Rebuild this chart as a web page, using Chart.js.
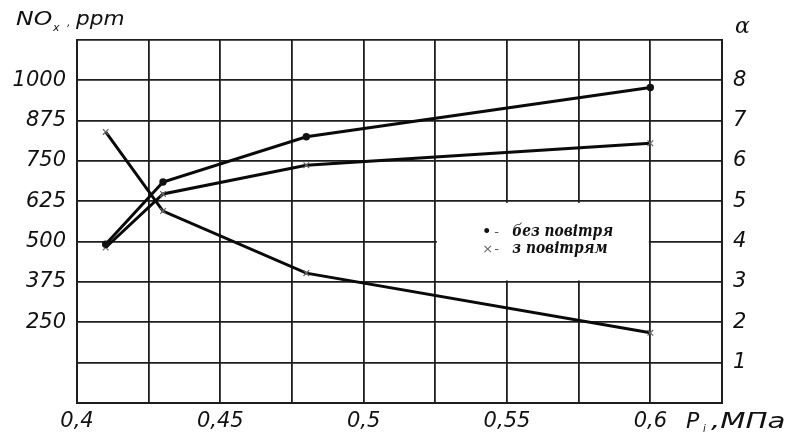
<!DOCTYPE html>
<html>
<head>
<meta charset="utf-8">
<script src="https://cdn.jsdelivr.net/npm/chart.js@4.4.1/dist/chart.umd.min.js"></script>
<style>
html,body{margin:0;padding:0;background:#fff;}
#c{display:block;}
</style>
</head>
<body>
<canvas id="c" width="792" height="436"></canvas>
<script>
// ---- data ----
const pressure = [0.41, 0.43, 0.48, 0.6];               // P_i, MPa
const noxWithoutAir = [492, 685, 825, 978];              // NOx, ppm (• без повітря)
const noxWithAir = [482, 648, 737, 805];                 // NOx, ppm (× з повітрям)
const alphaValues = [6.72, 4.76, 3.22, 1.74];            // α (right axis)
const xTickLabels = [0.4, 0.45, 0.5, 0.55, 0.6];
const leftTickLabels = [250, 375, 500, 625, 750, 875, 1000];
const rightTickLabels = [1, 2, 3, 4, 5, 6, 7, 8];
const legendItems = [{mark: '•', text: 'без повітря'}, {mark: '×', text: 'з повітрям'}];

const toPts = (xs, ys) => xs.map((x, i) => ({x: x, y: ys[i]}));
const fmt = v => String(v).replace('.', ',');
const near = (v, arr) => arr.find(a => Math.abs(a - v) < 1e-6);

const tickFont = {family: 'DejaVu Sans', style: 'italic', size: 21};
const gridColor = '#1e1e1e';

const cover = {
  id: 'cover',
  beforeDatasetsDraw(chart) {
    const x = chart.scales.x, y = chart.scales.y, ctx = chart.ctx;
    const x0 = x.getPixelForValue(0.525) + 1.5, x1 = x.getPixelForValue(0.6) - 1.5;
    const y0 = y.getPixelForValue(625) + 1.5, y1 = y.getPixelForValue(375) - 1.5;
    ctx.save();
    ctx.fillStyle = '#fff';
    ctx.fillRect(x0, y0, x1 - x0, y1 - y0);
    ctx.restore();
  }
};

function txt(ctx, s, x, y, font, sx) {
  ctx.save();
  ctx.font = font;
  ctx.translate(x, y);
  ctx.scale(sx || 1, 1);
  ctx.fillText(s, 0, 0);
  ctx.restore();
}

const labels = {
  id: 'labels',
  afterDraw(chart) {
    const ctx = chart.ctx;
    ctx.save();
    ctx.fillStyle = '#111';
    ctx.textBaseline = 'alphabetic';
    ctx.textAlign = 'left';
    // NOx, ppm
    txt(ctx, 'NO', 16, 25, 'italic 20px "DejaVu Sans"', 1.18);
    txt(ctx, 'x', 53, 31, 'italic 11px "DejaVu Sans"');
    txt(ctx, ',', 67, 26, 'italic 11px "DejaVu Sans"');
    txt(ctx, 'ppm', 76, 25, 'italic 20px "DejaVu Sans"', 1.08);
    // alpha
    txt(ctx, 'α', 735, 33, 'italic 22px "DejaVu Serif"');
    // P_i, MPa
    txt(ctx, 'P', 686, 428, 'italic 21px "DejaVu Sans"', 1.05);
    txt(ctx, 'i', 703, 432, 'italic 10px "DejaVu Sans"');
    txt(ctx, ',МПа', 711, 428, 'italic 22px "DejaVu Sans"', 1.33);
    // legend
    const xs = chart.scales.x, ys = chart.scales.y;
    const lx = xs.getPixelForValue(0.5414);
    const ly = ys.getPixelForValue(518);
    legendItems.forEach((it, i) => {
      const yy = ly + i * 17;
      ctx.fillStyle = i === 0 ? '#111' : '#666';
      txt(ctx, it.mark, lx, yy, (i === 0 ? 'bold 14px' : '13px') + ' "DejaVu Sans"');
      ctx.fillStyle = '#555';
      txt(ctx, '-', lx + 12, yy, '13px "DejaVu Sans"');
      ctx.fillStyle = '#111';
      txt(ctx, it.text, lx + 30, yy, 'italic bold 16px "DejaVu Serif"', 0.86);
    });
    ctx.restore();
  }
};

new Chart(document.getElementById('c'), {
  type: 'scatter',
  data: {
    datasets: [
      {
        label: 'без повітря',
        data: toPts(pressure, noxWithoutAir),
        yAxisID: 'y',
        showLine: true,
        borderColor: '#0a0a0a',
        borderWidth: 3,
        pointStyle: 'circle',
        pointRadius: 2.2,
        pointBackgroundColor: '#111',
        pointBorderColor: '#111'
      },
      {
        label: 'з повітрям',
        data: toPts(pressure, noxWithAir),
        yAxisID: 'y',
        showLine: true,
        borderColor: '#0a0a0a',
        borderWidth: 3,
        pointStyle: 'crossRot',
        pointRadius: 4,
        pointBorderWidth: 1.2,
        pointBorderColor: '#666'
      },
      {
        label: 'α',
        data: toPts(pressure, alphaValues),
        yAxisID: 'y1',
        showLine: true,
        borderColor: '#0a0a0a',
        borderWidth: 3,
        pointStyle: 'crossRot',
        pointRadius: 4,
        pointBorderWidth: 1.2,
        pointBorderColor: '#666'
      }
    ]
  },
  options: {
    responsive: false,
    animation: false,
    devicePixelRatio: 1,
    layout: {padding: {top: 40, left: 0, right: 0, bottom: 0}},
    plugins: {legend: {display: false}, tooltip: {enabled: false}},
    scales: {
      x: {
        type: 'linear',
        min: 0.4, max: 0.625,
        afterFit: s => { s.height = 33; },
        afterBuildTicks: s => { s.ticks = [0,1,2,3,4,5,6,7,8,9].map(i => ({value: +(0.4 + i * 0.025).toFixed(3)})); },
        grid: {color: gridColor, lineWidth: 1.8, drawTicks: false},
        border: {color: gridColor, width: 2},
        ticks: {
          autoSkip: false, maxRotation: 0, padding: 6, color: '#111', font: tickFont,
          callback: v => { const m = near(v, xTickLabels); return m !== undefined ? fmt(m) : ''; }
        }
      },
      y: {
        type: 'linear', position: 'left',
        min: 0, max: 1125,
        afterFit: s => { s.width = 77; },
        afterBuildTicks: s => { s.ticks = [0,1,2,3,4,5,6,7,8,9].map(i => ({value: i * 125})); },
        grid: {color: gridColor, lineWidth: 1.8, drawTicks: false},
        border: {color: gridColor, width: 2},
        ticks: {
          autoSkip: false, padding: 11, color: '#111', font: tickFont,
          callback: v => { const m = near(v, leftTickLabels); return m !== undefined ? String(m) : ''; }
        }
      },
      y1: {
        type: 'linear', position: 'right',
        min: 0, max: 9,
        afterFit: s => { s.width = 70; },
        afterBuildTicks: s => { s.ticks = [0,1,2,3,4,5,6,7,8,9].map(i => ({value: i})); },
        grid: {display: false, drawTicks: false},
        border: {color: gridColor, width: 2},
        ticks: {
          autoSkip: false, padding: 11, color: '#111', font: tickFont,
          callback: v => { const m = near(v, rightTickLabels); return m !== undefined ? String(m) : ''; }
        }
      }
    }
  },
  plugins: [cover, labels]
});
</script>
</body>
</html>
